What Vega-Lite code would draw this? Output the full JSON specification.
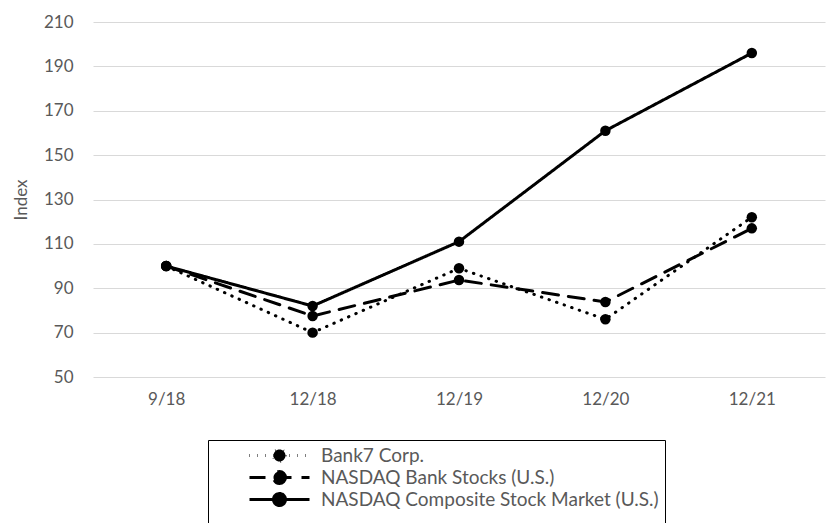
{
  "$schema": "https://vega.github.io/schema/vega-lite/v6.json",
  "autosize": {"type": "none"},
  "padding": {"left": 93, "top": 22, "right": 6, "bottom": 146},
  "width": 732,
  "height": 355,
  "background": "white",
  "config": {
    "view": {"stroke": null},
    "font": "Lato",
    "axis": {"labelColor": "#595959", "titleColor": "#595959", "labelFontSize": 17, "titleFontSize": 17, "titleFontWeight": "normal"}
  },
  "data": {
    "values": [
      {"date": "9/18", "series": "Bank7 Corp.", "value": 100},
      {"date": "12/18", "series": "Bank7 Corp.", "value": 70},
      {"date": "12/19", "series": "Bank7 Corp.", "value": 99},
      {"date": "12/20", "series": "Bank7 Corp.", "value": 76},
      {"date": "12/21", "series": "Bank7 Corp.", "value": 122},
      {"date": "9/18", "series": "NASDAQ Bank Stocks (U.S.)", "value": 100},
      {"date": "12/18", "series": "NASDAQ Bank Stocks (U.S.)", "value": 77.5},
      {"date": "12/19", "series": "NASDAQ Bank Stocks (U.S.)", "value": 93.7},
      {"date": "12/20", "series": "NASDAQ Bank Stocks (U.S.)", "value": 83.8},
      {"date": "12/21", "series": "NASDAQ Bank Stocks (U.S.)", "value": 117},
      {"date": "9/18", "series": "NASDAQ Composite Stock Market (U.S.)", "value": 100},
      {"date": "12/18", "series": "NASDAQ Composite Stock Market (U.S.)", "value": 82},
      {"date": "12/19", "series": "NASDAQ Composite Stock Market (U.S.)", "value": 111},
      {"date": "12/20", "series": "NASDAQ Composite Stock Market (U.S.)", "value": 161},
      {"date": "12/21", "series": "NASDAQ Composite Stock Market (U.S.)", "value": 196}
    ]
  },
  "encoding": {
    "x": {
      "field": "date", "type": "ordinal", "sort": ["9/18", "12/18", "12/19", "12/20", "12/21"],
      "scale": {"type": "point", "padding": 0.5},
      "axis": {"title": null, "labelAngle": 0, "ticks": false, "domain": false, "grid": false, "labelPadding": 14}
    },
    "y": {
      "field": "value", "type": "quantitative",
      "scale": {"domain": [50, 210], "nice": false, "zero": false},
      "axis": {"title": "Index", "values": [50, 70, 90, 110, 130, 150, 170, 190, 210], "ticks": false, "domain": false, "gridColor": "#d9d9d9", "gridWidth": 1, "labelPadding": 20, "titlePadding": 13}
    }
  },
  "layer": [
    {
      "mark": {"type": "line", "color": "black", "strokeWidth": 3, "strokeCap": "round"},
      "encoding": {
        "detail": {"field": "series"},
        "strokeDash": {
          "field": "series", "type": "nominal",
          "scale": {
            "domain": ["Bank7 Corp.", "NASDAQ Bank Stocks (U.S.)", "NASDAQ Composite Stock Market (U.S.)"],
            "range": [[0.5, 7.5], [16, 10], [1, 0]]
          },
          "legend": {
            "title": " ",
            "titleOrient": "bottom",
            "titleFontSize": 14,
            "titlePadding": 4,
            "orient": "none",
            "legendX": 115,
            "legendY": 418,
            "direction": "vertical",
            "strokeColor": "black",
            "padding": 6,
            "symbolOffset": 56,
            "symbolType": "M-6,0L6,0M1.2,0A1.2,1.2,0,1,1,-1.2,0A1.2,1.2,0,1,1,1.2,0Z",
            "symbolSize": 100,
            "symbolStrokeWidth": 3,
            "symbolStrokeColor": "black",
            "symbolFillColor": "black",
            "labelFontSize": 19,
            "labelColor": "#595959",
            "labelFont": "Lato",
            "labelLimit": 500,
            "rowPadding": -5,
            "labelOffset": 32
          }
        }
      }
    },
    {
      "mark": {"type": "point", "filled": true, "color": "black", "size": 110, "opacity": 1},
      "encoding": {"detail": {"field": "series"}}
    }
  ]
}
